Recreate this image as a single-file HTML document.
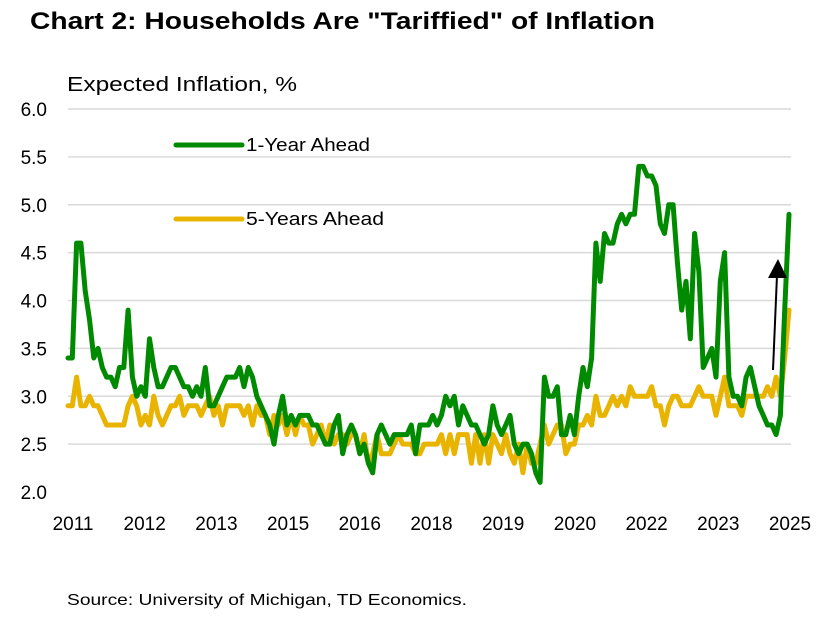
<!DOCTYPE html>
<html><head><meta charset="utf-8">
<style>
body{margin:0;background:#fff;width:827px;height:617px;overflow:hidden;font-family:"Liberation Sans",sans-serif;}
svg{display:block}
</style></head>
<body>
<svg id="chart" width="827" height="617" xmlns="http://www.w3.org/2000/svg">
<text x="30" y="29" font-size="24" font-weight="bold" fill="#000" textLength="625" lengthAdjust="spacingAndGlyphs">Chart 2: Households Are "Tariffied" of Inflation</text>
<text x="67" y="91" font-size="20" fill="#000" textLength="230" lengthAdjust="spacingAndGlyphs">Expected Inflation, %</text>
<g id="grid"></g><g id="ylabels"></g><g id="xlabels"></g><g id="series"></g>
<line x1="176" y1="145" x2="242" y2="145" stroke="#008a00" stroke-width="5" stroke-linecap="round"/>
<text x="246" y="151" font-size="18" fill="#000" textLength="124" lengthAdjust="spacingAndGlyphs">1-Year Ahead</text>
<line x1="176" y1="219" x2="242" y2="219" stroke="#e8b400" stroke-width="5" stroke-linecap="round"/>
<text x="246" y="225" font-size="18" fill="#000" textLength="138" lengthAdjust="spacingAndGlyphs">5-Years Ahead</text>
<line x1="773" y1="370" x2="777" y2="275" stroke="#000" stroke-width="2"/>
<polygon points="768,278 787,278 778,259" fill="#000"/>
<text x="67" y="605" font-size="16" fill="#000" textLength="400" lengthAdjust="spacingAndGlyphs">Source: University of Michigan, TD Economics.</text>
</svg>
<script>
const yTicks=[2.0,2.5,3.0,3.5,4.0,4.5,5.0,5.5,6.0];
const yearLabels=["2011","2012","2013","2015","2016","2018","2019","2020","2022","2023","2025"];
const oneYear=[3.4,3.4,4.6,4.6,4.1,3.8,3.4,3.5,3.3,3.2,3.2,3.1,3.3,3.3,3.9,3.2,3.0,3.1,3.0,3.6,3.3,3.1,3.1,3.2,3.3,3.3,3.2,3.1,3.1,3.0,3.1,3.0,3.3,2.9,2.9,3.0,3.1,3.2,3.2,3.2,3.3,3.1,3.3,3.2,3.0,2.9,2.8,2.7,2.5,2.8,3.0,2.7,2.8,2.7,2.8,2.8,2.8,2.7,2.7,2.6,2.5,2.5,2.7,2.8,2.4,2.6,2.7,2.6,2.4,2.5,2.3,2.2,2.6,2.7,2.6,2.5,2.6,2.6,2.6,2.6,2.7,2.4,2.7,2.7,2.7,2.8,2.7,2.8,3.0,2.9,3.0,2.7,2.9,2.8,2.7,2.7,2.6,2.5,2.6,2.9,2.7,2.6,2.7,2.8,2.5,2.4,2.5,2.5,2.4,2.2,2.1,3.2,3.0,3.0,3.1,2.6,2.6,2.8,2.6,3.0,3.3,3.1,3.4,4.6,4.2,4.7,4.6,4.6,4.8,4.9,4.8,4.9,4.9,5.4,5.4,5.3,5.3,5.2,4.8,4.7,5.0,5.0,4.4,3.9,4.2,3.6,4.7,4.3,3.3,3.4,3.5,3.2,4.2,4.5,3.2,3.0,3.0,2.9,3.2,3.3,3.1,2.9,2.8,2.7,2.7,2.6,2.8,3.9,4.9];
const fiveYear=[2.9,2.9,3.2,2.9,2.9,3.0,2.9,2.9,2.8,2.7,2.7,2.7,2.7,2.7,2.9,3.0,2.9,2.7,2.8,2.7,3.0,2.8,2.7,2.8,2.9,2.9,3.0,2.8,2.9,2.9,2.9,2.8,2.9,3.0,2.8,2.9,2.7,2.9,2.9,2.9,2.9,2.8,2.9,2.7,2.9,2.8,2.8,2.6,2.8,2.7,2.8,2.6,2.8,2.6,2.8,2.7,2.7,2.5,2.6,2.7,2.5,2.7,2.5,2.6,2.6,2.5,2.6,2.6,2.4,2.6,2.3,2.4,2.6,2.4,2.4,2.4,2.5,2.6,2.5,2.5,2.5,2.4,2.4,2.5,2.5,2.5,2.5,2.6,2.4,2.6,2.4,2.6,2.6,2.6,2.3,2.6,2.3,2.6,2.3,2.6,2.5,2.4,2.6,2.4,2.3,2.5,2.2,2.5,2.3,2.3,2.5,2.7,2.5,2.6,2.7,2.7,2.4,2.5,2.5,2.7,2.7,2.8,2.7,3.0,2.8,2.8,2.9,3.0,2.9,3.0,2.9,3.1,3.0,3.0,3.0,3.0,3.1,2.9,2.9,2.7,2.9,3.0,3.0,2.9,2.9,2.9,3.0,3.1,3.0,3.0,3.0,2.8,3.0,3.2,2.9,2.9,2.9,2.8,3.0,3.0,3.0,3.0,3.0,3.1,3.0,3.2,3.0,3.4,3.9];
const NS="http://www.w3.org/2000/svg";
const x0=68,x1=789,yTop=109,yBot=492;
function yScale(v){return yBot-(v-2)/(6-2)*(yBot-yTop);}
function xScale(i,n){return x0+i*(x1-x0)/(n-1);}
function mk(tag,attrs,parent){const e=document.createElementNS(NS,tag);for(const k in attrs)e.setAttribute(k,attrs[k]);parent.appendChild(e);return e;}
const grid=document.getElementById('grid'),yl=document.getElementById('ylabels'),xl=document.getElementById('xlabels'),ser=document.getElementById('series');
yTicks.forEach(t=>{
  const y=yScale(t);
  if(t>2){const g=mk('line',{x1:x0,x2:x1+2,y1:y,y2:y,stroke:'#d9d9d9','stroke-width':1.5},grid);
  
  }
  const tx=mk('text',{x:47,y:y+7,'font-size':19,'text-anchor':'end',fill:'#000'},yl);
  tx.textContent=t.toFixed(1);
  
  
});
const lx0=73,lx1=790;
yearLabels.forEach((l,i)=>{
  const x=lx0+i*(lx1-lx0)/(yearLabels.length-1);
  const tx=mk('text',{x:x,y:530,'font-size':19,'text-anchor':'middle',fill:'#000'},xl);
  tx.textContent=l;
  
  
});
function line(data,color,name){
  const pts=data.map((v,i)=>xScale(i,data.length).toFixed(1)+','+yScale(v).toFixed(1)).join(' ');
  const p=mk('polyline',{points:pts,fill:'none',stroke:color,'stroke-width':5,'stroke-linejoin':'round','stroke-linecap':'round'},ser);
  
  
}
line(fiveYear,'#e8b400','series-5yr-ahead');
line(oneYear,'#008a00','series-1yr-ahead');
</script>
</body></html>
